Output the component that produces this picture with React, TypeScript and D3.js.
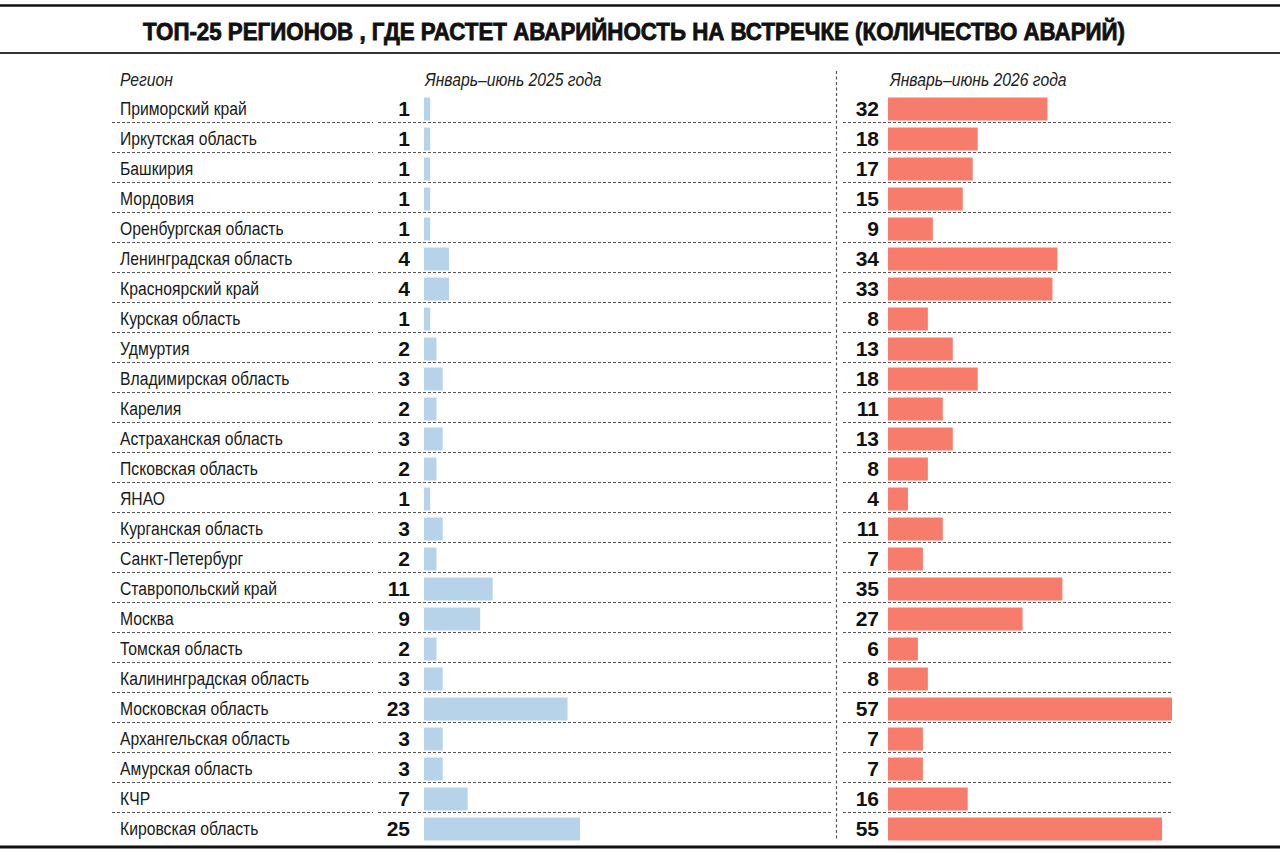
import React from "react";
import * as d3 from "d3";

const title = "ТОП-25 РЕГИОНОВ , ГДЕ РАСТЕТ АВАРИЙНОСТЬ НА ВСТРЕЧКЕ  (КОЛИЧЕСТВО АВАРИЙ)";
const headerRegion = "Регион";
const header2025 = "Январь–июнь 2025 года";
const header2026 = "Январь–июнь 2026 года";

const regions = [
  "Приморский край",
  "Иркутская область",
  "Башкирия",
  "Мордовия",
  "Оренбургская область",
  "Ленинградская область",
  "Красноярский край",
  "Курская область",
  "Удмуртия",
  "Владимирская область",
  "Карелия",
  "Астраханская область",
  "Псковская область",
  "ЯНАО",
  "Курганская область",
  "Санкт-Петербург",
  "Ставропольский край",
  "Москва",
  "Томская область",
  "Калининградская область",
  "Московская область",
  "Архангельская область",
  "Амурская область",
  "КЧР",
  "Кировская область",
];

const values2025 = [1, 1, 1, 1, 1, 4, 4, 1, 2, 3, 2, 3, 2, 1, 3, 2, 11, 9, 2, 3, 23, 3, 3, 7, 25];
const values2026 = [32, 18, 17, 15, 9, 34, 33, 8, 13, 18, 11, 13, 8, 4, 11, 7, 35, 27, 6, 8, 57, 7, 7, 16, 55];

const BLUE = "#b6d3ea";
const RED = "#f87c6b";
const SANS = "'Liberation Sans', Arial, sans-serif";
const NARROW_SCALE = 0.85;

function Narrow({
  x,
  y,
  children,
  size,
  italic,
  fill = "#1a1a1a",
}: {
  x: number;
  y: number;
  children: React.ReactNode;
  size: number;
  italic?: boolean;
  fill?: string;
}) {
  return (
    <text
      transform={`translate(${x},${y}) scale(${NARROW_SCALE},1)`}
      fontFamily={SANS}
      fontSize={size}
      fontStyle={italic ? "italic" : "normal"}
      fill={fill}
    >
      {children}
    </text>
  );
}

export default function App() {
  const W = 1280;
  const H = 853;
  const y = d3.scaleBand<string>().domain(regions).range([92.5, 842.5]).padding(0);
  const x25 = d3.scaleLinear().domain([0, 25]).range([424, 580]);
  const x26 = d3.scaleLinear().domain([0, 57]).range([888, 1172]);
  const bw = y.bandwidth();

  return (
    <svg
      width={W}
      height={H}
      style={{ position: "absolute", left: 0, top: 0, background: "#fff" }}
    >
      <rect x={0} y={0} width={W} height={H} fill="#fff" />
      {/* frame lines */}
      <line x1={0} x2={W} y1={5.5} y2={5.5} stroke="#111" strokeWidth={2.5} />
      <line x1={0} x2={W} y1={53} y2={53} stroke="#333" strokeWidth={1.8} />
      <line x1={0} x2={W} y1={847} y2={847} stroke="#111" strokeWidth={3} />

      <text
        x={143}
        y={39.5}
        textLength={982}
        lengthAdjust="spacingAndGlyphs"
        fontFamily={SANS}
        fontWeight={700}
        fontSize={23}
        fill="#111"
        stroke="#111"
        strokeWidth={0.8}
      >
        {title}
      </text>

      {/* headers */}
      <Narrow x={120} y={86} size={18.5} italic fill="#222">{headerRegion}</Narrow>
      <Narrow x={425} y={86} size={18.5} italic fill="#222">{header2025}</Narrow>
      <Narrow x={890} y={86} size={18.5} italic fill="#222">{header2026}</Narrow>

      {/* vertical divider */}
      <line
        x1={836.5}
        x2={836.5}
        y1={71}
        y2={840}
        stroke="#555"
        strokeWidth={1.2}
        strokeDasharray="3,2.5"
      />

      {regions.map((r, i) => {
        const top = y(r) as number;
        const sep = top + bw;
        const last = i === regions.length - 1;
        return (
          <g key={r}>
            {!last && (
              <g stroke="#555" strokeWidth={1} strokeDasharray="3,2">
                <line x1={112} x2={373} y1={sep} y2={sep} />
                <line x1={378} x2={833} y1={sep} y2={sep} />
                <line x1={843} x2={1173} y1={sep} y2={sep} />
              </g>
            )}
            <Narrow x={120} y={top + 22.5} size={18.5}>{r}</Narrow>
            <text
              x={410}
              y={top + 23}
              textAnchor="end"
              fontFamily={SANS}
              fontWeight={700}
              fontSize={21}
              fill="#111"
            >
              {values2025[i]}
            </text>
            <rect
              x={x25(0)}
              y={top + 5}
              width={x25(values2025[i]) - x25(0)}
              height={23}
              fill={BLUE}
            />
            <text
              x={879}
              y={top + 23}
              textAnchor="end"
              fontFamily={SANS}
              fontWeight={700}
              fontSize={21}
              fill="#111"
            >
              {values2026[i]}
            </text>
            <rect
              x={x26(0)}
              y={top + 5}
              width={x26(values2026[i]) - x26(0)}
              height={23}
              fill={RED}
            />
          </g>
        );
      })}
    </svg>
  );
}
